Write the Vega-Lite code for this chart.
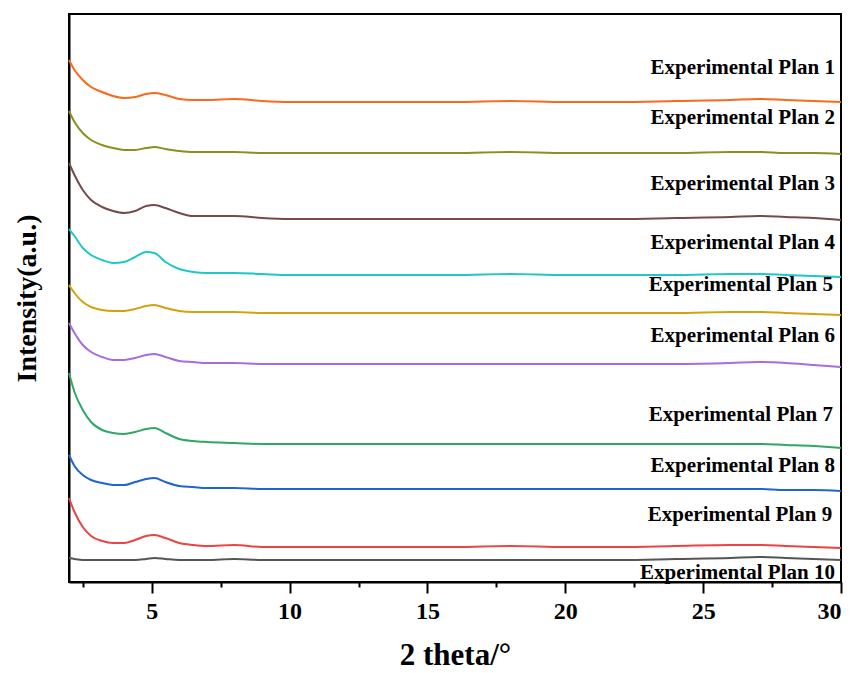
{
  "$schema": "https://vega.github.io/schema/vega-lite/v6.json",
  "autosize": "none",
  "width": 772,
  "height": 568,
  "padding": {"left": 69, "top": 14, "right": 17, "bottom": 91},
  "background": "white",
  "config": {
    "view": {"stroke": "black", "strokeWidth": 2},
    "font": "Liberation Serif",
    "axis": {"labelFont": "Liberation Serif", "titleFont": "Liberation Serif", "domainColor": "black", "domainWidth": 2, "tickColor": "black", "tickWidth": 2, "grid": false, "labelColor": "black", "titleColor": "black"}
  },
  "datasets": {
    "labels": [
      {"s": 1, "name": "Experimental Plan 1", "x": 29.78, "y": 514},
      {"s": 2, "name": "Experimental Plan 2", "x": 29.78, "y": 464},
      {"s": 3, "name": "Experimental Plan 3", "x": 29.78, "y": 398},
      {"s": 4, "name": "Experimental Plan 4", "x": 29.78, "y": 339},
      {"s": 5, "name": "Experimental Plan 5", "x": 29.71, "y": 297},
      {"s": 6, "name": "Experimental Plan 6", "x": 29.78, "y": 246},
      {"s": 7, "name": "Experimental Plan 7", "x": 29.71, "y": 167},
      {"s": 8, "name": "Experimental Plan 8", "x": 29.78, "y": 116},
      {"s": 9, "name": "Experimental Plan 9", "x": 29.68, "y": 67},
      {"s": 10, "name": "Experimental Plan 10", "x": 29.78, "y": 9}
    ],
    "curves": [
      {"s":1,"x":2,"y":522},{"s":1,"x":2.2,"y":512},{"s":1,"x":2.5,"y":502},{"s":1,"x":2.8,"y":495},{"s":1,"x":3.2,"y":490},{"s":1,"x":3.6,"y":486},{"s":1,"x":4,"y":484},{"s":1,"x":4.4,"y":485},{"s":1,"x":4.8,"y":488},{"s":1,"x":5.1,"y":489},{"s":1,"x":5.5,"y":487},{"s":1,"x":6,"y":483},{"s":1,"x":6.5,"y":482},{"s":1,"x":7,"y":482},{"s":1,"x":8,"y":483},{"s":1,"x":9,"y":481},{"s":1,"x":10,"y":480},{"s":1,"x":12,"y":480},{"s":1,"x":14,"y":480},{"s":1,"x":16,"y":480},{"s":1,"x":18,"y":481},{"s":1,"x":20,"y":480},{"s":1,"x":22,"y":480},{"s":1,"x":24,"y":481},{"s":1,"x":26,"y":482},{"s":1,"x":27,"y":483},{"s":1,"x":28,"y":482},{"s":1,"x":29,"y":481},{"s":1,"x":30,"y":480},
      {"s":2,"x":2,"y":471},{"s":2,"x":2.2,"y":460},{"s":2,"x":2.5,"y":449},{"s":2,"x":2.8,"y":442},{"s":2,"x":3.2,"y":437},{"s":2,"x":3.6,"y":434},{"s":2,"x":4,"y":432},{"s":2,"x":4.4,"y":432},{"s":2,"x":4.8,"y":434},{"s":2,"x":5.1,"y":435},{"s":2,"x":5.5,"y":433},{"s":2,"x":6,"y":431},{"s":2,"x":6.5,"y":430},{"s":2,"x":7,"y":430},{"s":2,"x":8,"y":430},{"s":2,"x":9,"y":429},{"s":2,"x":10,"y":429},{"s":2,"x":12,"y":429},{"s":2,"x":14,"y":429},{"s":2,"x":16,"y":429},{"s":2,"x":18,"y":430},{"s":2,"x":20,"y":429},{"s":2,"x":22,"y":429},{"s":2,"x":24,"y":429},{"s":2,"x":26,"y":430},{"s":2,"x":27,"y":430},{"s":2,"x":28,"y":429},{"s":2,"x":29,"y":429},{"s":2,"x":30,"y":428},
      {"s":3,"x":2,"y":419},{"s":3,"x":2.2,"y":407},{"s":3,"x":2.5,"y":392},{"s":3,"x":2.8,"y":382},{"s":3,"x":3.2,"y":375},{"s":3,"x":3.6,"y":371},{"s":3,"x":4,"y":369},{"s":3,"x":4.4,"y":371},{"s":3,"x":4.8,"y":376},{"s":3,"x":5.1,"y":377},{"s":3,"x":5.5,"y":374},{"s":3,"x":6,"y":369},{"s":3,"x":6.5,"y":366},{"s":3,"x":7,"y":366},{"s":3,"x":8,"y":366},{"s":3,"x":9,"y":364},{"s":3,"x":10,"y":363},{"s":3,"x":12,"y":363},{"s":3,"x":14,"y":363},{"s":3,"x":16,"y":363},{"s":3,"x":18,"y":363},{"s":3,"x":20,"y":363},{"s":3,"x":22,"y":363},{"s":3,"x":24,"y":364},{"s":3,"x":26,"y":365},{"s":3,"x":27,"y":366},{"s":3,"x":28,"y":365},{"s":3,"x":29,"y":364},{"s":3,"x":30,"y":362},
      {"s":4,"x":2,"y":353},{"s":4,"x":2.2,"y":346},{"s":4,"x":2.5,"y":334},{"s":4,"x":2.8,"y":327},{"s":4,"x":3.2,"y":322},{"s":4,"x":3.6,"y":319},{"s":4,"x":4,"y":320},{"s":4,"x":4.4,"y":325},{"s":4,"x":4.8,"y":330},{"s":4,"x":5.1,"y":329},{"s":4,"x":5.5,"y":320},{"s":4,"x":6,"y":313},{"s":4,"x":6.5,"y":310},{"s":4,"x":7,"y":309},{"s":4,"x":8,"y":309},{"s":4,"x":9,"y":308},{"s":4,"x":10,"y":307},{"s":4,"x":12,"y":307},{"s":4,"x":14,"y":307},{"s":4,"x":16,"y":307},{"s":4,"x":18,"y":308},{"s":4,"x":20,"y":307},{"s":4,"x":22,"y":307},{"s":4,"x":24,"y":307},{"s":4,"x":26,"y":308},{"s":4,"x":27,"y":308},{"s":4,"x":28,"y":307},{"s":4,"x":29,"y":306},{"s":4,"x":30,"y":305},
      {"s":5,"x":2,"y":297},{"s":5,"x":2.2,"y":289},{"s":5,"x":2.5,"y":280},{"s":5,"x":2.8,"y":275},{"s":5,"x":3.2,"y":272},{"s":5,"x":3.6,"y":271},{"s":5,"x":4,"y":271},{"s":5,"x":4.4,"y":273},{"s":5,"x":4.8,"y":276},{"s":5,"x":5.1,"y":277},{"s":5,"x":5.5,"y":274},{"s":5,"x":6,"y":271},{"s":5,"x":6.5,"y":270},{"s":5,"x":7,"y":270},{"s":5,"x":8,"y":270},{"s":5,"x":9,"y":269},{"s":5,"x":10,"y":269},{"s":5,"x":12,"y":269},{"s":5,"x":14,"y":269},{"s":5,"x":16,"y":269},{"s":5,"x":18,"y":269},{"s":5,"x":20,"y":269},{"s":5,"x":22,"y":269},{"s":5,"x":24,"y":269},{"s":5,"x":26,"y":270},{"s":5,"x":27,"y":270},{"s":5,"x":28,"y":269},{"s":5,"x":29,"y":268},{"s":5,"x":30,"y":267},
      {"s":6,"x":2,"y":259},{"s":6,"x":2.2,"y":249},{"s":6,"x":2.5,"y":237},{"s":6,"x":2.8,"y":230},{"s":6,"x":3.2,"y":225},{"s":6,"x":3.6,"y":222},{"s":6,"x":4,"y":222},{"s":6,"x":4.4,"y":224},{"s":6,"x":4.8,"y":227},{"s":6,"x":5.1,"y":228},{"s":6,"x":5.5,"y":225},{"s":6,"x":6,"y":221},{"s":6,"x":6.5,"y":220},{"s":6,"x":7,"y":219},{"s":6,"x":8,"y":219},{"s":6,"x":9,"y":218},{"s":6,"x":10,"y":218},{"s":6,"x":12,"y":218},{"s":6,"x":14,"y":218},{"s":6,"x":16,"y":218},{"s":6,"x":18,"y":218},{"s":6,"x":20,"y":218},{"s":6,"x":22,"y":218},{"s":6,"x":24,"y":218},{"s":6,"x":26,"y":219},{"s":6,"x":27,"y":220},{"s":6,"x":28,"y":219},{"s":6,"x":29,"y":217},{"s":6,"x":30,"y":215},
      {"s":7,"x":2,"y":209},{"s":7,"x":2.2,"y":190},{"s":7,"x":2.5,"y":172},{"s":7,"x":2.8,"y":160},{"s":7,"x":3.2,"y":152},{"s":7,"x":3.6,"y":149},{"s":7,"x":4,"y":148},{"s":7,"x":4.4,"y":150},{"s":7,"x":4.8,"y":153},{"s":7,"x":5.1,"y":154},{"s":7,"x":5.5,"y":149},{"s":7,"x":6,"y":143},{"s":7,"x":6.5,"y":141},{"s":7,"x":7,"y":140},{"s":7,"x":8,"y":139},{"s":7,"x":9,"y":138},{"s":7,"x":10,"y":138},{"s":7,"x":12,"y":138},{"s":7,"x":14,"y":138},{"s":7,"x":16,"y":138},{"s":7,"x":18,"y":138},{"s":7,"x":20,"y":138},{"s":7,"x":22,"y":138},{"s":7,"x":24,"y":138},{"s":7,"x":26,"y":138},{"s":7,"x":27,"y":138},{"s":7,"x":28,"y":137},{"s":7,"x":29,"y":136},{"s":7,"x":30,"y":134},
      {"s":8,"x":2,"y":127},{"s":8,"x":2.2,"y":116},{"s":8,"x":2.5,"y":107},{"s":8,"x":2.8,"y":102},{"s":8,"x":3.2,"y":99},{"s":8,"x":3.6,"y":97},{"s":8,"x":4,"y":97},{"s":8,"x":4.4,"y":100},{"s":8,"x":4.8,"y":103},{"s":8,"x":5.1,"y":104},{"s":8,"x":5.5,"y":100},{"s":8,"x":6,"y":96},{"s":8,"x":6.5,"y":95},{"s":8,"x":7,"y":94},{"s":8,"x":8,"y":94},{"s":8,"x":9,"y":93},{"s":8,"x":10,"y":93},{"s":8,"x":12,"y":93},{"s":8,"x":14,"y":93},{"s":8,"x":16,"y":93},{"s":8,"x":18,"y":93},{"s":8,"x":20,"y":93},{"s":8,"x":22,"y":93},{"s":8,"x":24,"y":93},{"s":8,"x":26,"y":93},{"s":8,"x":27,"y":93},{"s":8,"x":28,"y":92},{"s":8,"x":29,"y":92},{"s":8,"x":30,"y":91},
      {"s":9,"x":2,"y":84},{"s":9,"x":2.2,"y":70},{"s":9,"x":2.5,"y":55},{"s":9,"x":2.8,"y":46},{"s":9,"x":3.2,"y":41},{"s":9,"x":3.6,"y":39},{"s":9,"x":4,"y":39},{"s":9,"x":4.4,"y":42},{"s":9,"x":4.8,"y":46},{"s":9,"x":5.1,"y":47},{"s":9,"x":5.5,"y":44},{"s":9,"x":6,"y":39},{"s":9,"x":6.5,"y":37},{"s":9,"x":7,"y":36},{"s":9,"x":8,"y":37},{"s":9,"x":9,"y":35},{"s":9,"x":10,"y":35},{"s":9,"x":12,"y":35},{"s":9,"x":14,"y":35},{"s":9,"x":16,"y":35},{"s":9,"x":18,"y":36},{"s":9,"x":20,"y":35},{"s":9,"x":22,"y":35},{"s":9,"x":24,"y":36},{"s":9,"x":26,"y":37},{"s":9,"x":27,"y":37},{"s":9,"x":28,"y":36},{"s":9,"x":29,"y":35},{"s":9,"x":30,"y":34},
      {"s":10,"x":2,"y":24},{"s":10,"x":2.2,"y":23},{"s":10,"x":2.5,"y":22},{"s":10,"x":2.8,"y":22},{"s":10,"x":3.2,"y":22},{"s":10,"x":3.6,"y":22},{"s":10,"x":4,"y":22},{"s":10,"x":4.4,"y":22},{"s":10,"x":4.8,"y":23},{"s":10,"x":5.1,"y":24},{"s":10,"x":5.5,"y":23},{"s":10,"x":6,"y":22},{"s":10,"x":6.5,"y":22},{"s":10,"x":7,"y":22},{"s":10,"x":8,"y":23},{"s":10,"x":9,"y":22},{"s":10,"x":10,"y":22},{"s":10,"x":12,"y":22},{"s":10,"x":14,"y":22},{"s":10,"x":16,"y":22},{"s":10,"x":18,"y":22},{"s":10,"x":20,"y":22},{"s":10,"x":22,"y":22},{"s":10,"x":24,"y":23},{"s":10,"x":26,"y":24},{"s":10,"x":27,"y":25},{"s":10,"x":28,"y":24},{"s":10,"x":29,"y":23},{"s":10,"x":30,"y":22}
    ]
  },
  "layer": [
    {
      "data": {"name": "curves"},
      "mark": {"type": "line", "strokeWidth": 2, "interpolate": "monotone"},
      "encoding": {
        "x": {"field": "x", "type": "quantitative", "scale": {"domain": [2, 30], "nice": false},
          "axis": {"values": [5, 10, 15, 20, 25, 30], "tickSize": 11, "labelFontSize": 24, "labelFontWeight": "bold", "labelPadding": 6, "title": "2 theta/°", "titleFontSize": 31, "titleFontWeight": "bold", "titlePadding": 17}},
        "y": {"field": "y", "type": "quantitative", "scale": {"domain": [0, 568], "nice": false},
          "axis": {"labels": false, "ticks": false, "title": "Intensity(a.u.)", "titleFontSize": 28, "titleFontWeight": "bold", "titlePadding": 28}},
        "color": {"field": "s", "type": "nominal", "legend": null,
          "scale": {"domain": [1,2,3,4,5,6,7,8,9,10], "range": ["#F96A1B", "#8E8E1F", "#754A4A", "#1FC8C8", "#D4A20F", "#A86BE0", "#2EA866", "#1E64D2", "#EC4343", "#555555"]}}
      }
    },
    {
      "data": {"name": "labels"},
      "mark": {"type": "text", "align": "right", "baseline": "middle", "fontSize": 21, "fontWeight": "bold", "font": "Liberation Serif", "color": "black"},
      "encoding": {
        "x": {"field": "x", "type": "quantitative", "axis": {"values": [2.5, 7.5, 12.5, 17.5, 22.5, 27.5], "tickSize": 5, "labels": false, "domain": false, "title": null, "orient": "bottom"}},
        "y": {"field": "y", "type": "quantitative"},
        "text": {"field": "name"}
      }
    }
  ],
  "resolve": {"axis": {"x": "independent"}}
}
